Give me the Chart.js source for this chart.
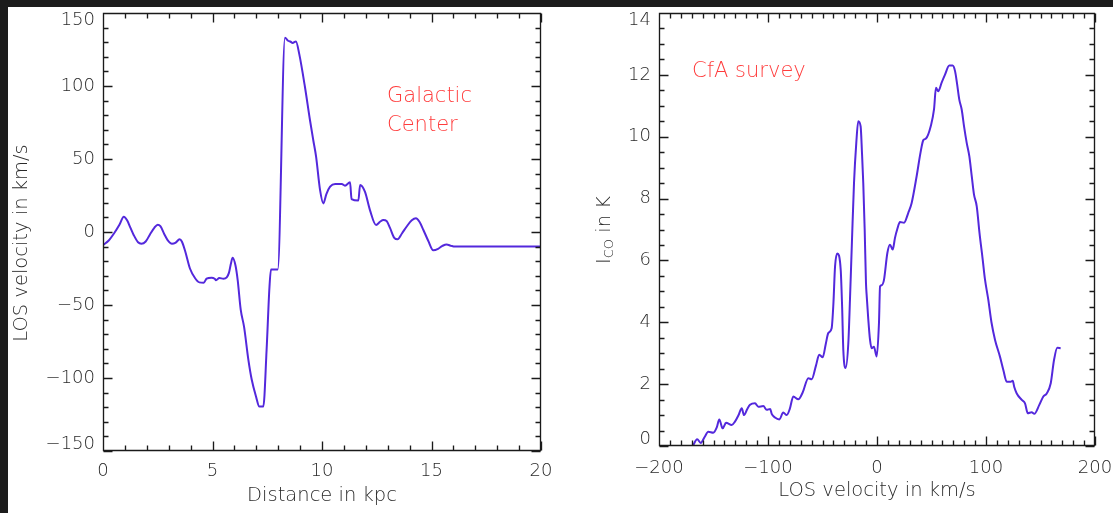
<!DOCTYPE html>
<html><head><meta charset="utf-8">
<script src="https://cdn.jsdelivr.net/npm/chart.js@4.4.1/dist/chart.umd.min.js"></script>
<style>
html,body{margin:0;padding:0;background:#fff;width:1113px;height:513px;overflow:hidden;position:relative}
#cl{position:absolute;left:0;top:0}
#cr{position:absolute;left:556px;top:0}
.strip{position:absolute;background:#1c1c1c;z-index:5}
</style></head><body>
<canvas id="cl" width="556" height="513"></canvas>
<canvas id="cr" width="557" height="513"></canvas>
<div class="strip" style="left:0;top:0;width:1113px;height:7px"></div>
<div class="strip" style="left:0;top:0;width:8px;height:513px"></div>
<script>
// ---------- Left panel: LOS velocity vs distance (towards the Galactic Center) ----------
const distance_kpc = [0.0,0.25,0.5,0.75,0.95,1.1,1.25,1.4,1.6,1.75,1.95,2.15,2.35,2.5,2.62,2.8,2.95,3.15,3.3,3.5,3.6,3.75,3.97,4.2,4.4,4.6,4.73,4.96,5.1,5.16,5.31,5.5,5.65,5.75,5.85,5.92,6.05,6.15,6.29,6.44,6.64,6.79,6.99,7.14,7.32,7.47,7.6,7.67,7.98,8.31,8.45,8.55,8.66,8.81,8.96,9.22,9.45,9.6,9.73,9.91,10.06,10.2,10.37,10.6,10.9,11.05,11.28,11.35,11.66,11.74,11.96,12.19,12.47,12.65,12.8,12.95,13.1,13.3,13.45,13.65,13.86,14.1,14.29,14.45,14.63,14.85,15.08,15.3,15.5,15.69,15.9,16.07,20.0];
const los_velocity_kms = [-9,-6,-1,5,10.5,8,3,-2,-7,-8,-6.5,-1.5,3,5,4,-1.5,-5.5,-8,-7.5,-5,-6.5,-13,-25,-31.5,-34.5,-34.7,-32,-31.3,-32,-33,-31.5,-32,-31,-28,-21,-17.6,-23,-33,-53.4,-64.8,-87.7,-101,-112.8,-119.6,-119.6,-80.8,-38,-25.6,-25.6,133,131,130.5,129.5,130.5,122,99.5,76.7,63,51.6,28.8,19.6,26,31,32.9,32.9,31.7,34,22.5,21.5,32.2,27.6,15,4.8,7,8.2,7.5,3,-4,-5,-1,3.6,8,9.4,7,1.4,-6,-12.5,-11.5,-9.5,-8.5,-9.5,-10,-10];
const left_x_ticks = [0,5,10,15,20];
const left_y_ticks = [-150,-100,-50,0,50,100,150];

// ---------- Right panel: CfA CO spectrum ----------
const co_velocity_kms = [-169,-165,-161.7,-158,-154.8,-150.2,-147,-144.7,-141.6,-138.5,-133.3,-130.3,-127,-124.1,-122,-119,-116.5,-111.9,-108.9,-104.3,-101.2,-98,-96.6,-93.6,-89.6,-86,-82.8,-80,-76.8,-72.2,-68.2,-63,-59.9,-56,-53,-49.8,-47,-44.7,-41.6,-40,-38.5,-36.4,-33.3,-32,-30.9,-28.8,-26.3,-24.8,-23,-21.1,-19,-17.2,-15,-13.8,-12.6,-11.3,-10.1,-9.4,-8,-6.4,-4.9,-2.8,-0.3,1.8,2.8,4.3,6.4,9.5,11.9,14.4,16.5,18.5,21.1,24.8,28.7,31.8,36.4,40,42.5,44.9,49.3,52.3,54.1,56.2,59.3,62.4,66.3,69.4,71.6,73.5,75.5,77.7,80,82.3,84.7,87,89,91.5,94,97,99,102.1,105,108.3,112.8,115.9,119,122.7,124.5,126,128.2,132.8,135.8,138.3,141.9,144.3,148.9,152.6,155.7,159.4,162.4,165.4,168.5];
const co_intensity_K = [0.0,0.22,0.1,0.3,0.46,0.43,0.6,0.86,0.57,0.75,0.68,0.79,1.0,1.22,1.0,1.2,1.33,1.38,1.27,1.29,1.17,1.2,1.04,0.92,0.86,1.08,1.0,1.2,1.6,1.51,1.73,2.19,2.16,2.6,2.95,2.87,3.3,3.65,3.81,4.6,5.8,6.22,5.7,4.5,3.1,2.52,3.33,4.73,6.6,8.5,9.8,10.5,10.33,9.5,8.5,7,5.26,4.83,4.1,3.43,3.16,3.21,2.89,3.97,5.16,5.2,5.37,6.24,6.51,6.35,6.73,7.0,7.24,7.22,7.54,7.86,8.73,9.5,9.89,9.94,10.34,10.88,11.58,11.47,11.75,12.01,12.3,12.3,12.12,11.7,11.2,10.88,10.3,9.8,9.37,8.7,8.13,7.75,6.9,6.02,5.4,4.73,4.0,3.43,2.89,2.46,2.08,2.08,2.11,1.9,1.7,1.49,1.38,1.06,1.09,1.04,1.33,1.6,1.7,2.03,2.78,3.18,3.16];
const right_x_ticks = [-200,-100,0,100,200];
const right_y_ticks = [0,2,4,6,8,10,12,14];

// ---------- styles ----------
const FAM = '"DejaVu Sans", "Liberation Sans", sans-serif';
const LINE = '#5328dc';
const TXT = '#2a2a2a';
const RED = '#ff3c3c';
const fmt = v => v < 0 ? '\u2212' + Math.abs(v) : String(v);

// frame with inward major/minor ticks on all four sides, placed through the chart's own scales
function makeFramePlugin(cfg) {
  return {
    id: 'frame',
    afterDraw(chart) {
      const ctx = chart.ctx, a = chart.chartArea;
      const xs = chart.scales.x, ys = chart.scales.y;
      ctx.save();
      ctx.strokeStyle = '#1a1a1a';
      ctx.lineWidth = 1.35;
      const L = Math.round(a.left) + 0.5, R = Math.round(a.right) - 0.5;
      const T = Math.round(a.top) + 0.5, B = Math.round(a.bottom) - 0.5;
      ctx.beginPath();
      ctx.rect(L, T, R - L, B - T);
      const tickX = (v, len) => {
        const p = Math.round(xs.getPixelForValue(v)) + 0.5;
        ctx.moveTo(p, B); ctx.lineTo(p, B - len);
        ctx.moveTo(p, T); ctx.lineTo(p, T + len);
      };
      const tickY = (v, len) => {
        const p = Math.round(ys.getPixelForValue(v)) + 0.5;
        ctx.moveTo(L, p); ctx.lineTo(L + len, p);
        ctx.moveTo(R, p); ctx.lineTo(R - len, p);
      };
      const nx = Math.round((cfg.xMax - cfg.xMin) / cfg.xMinor);
      for (let i = 0; i <= nx; i++) tickX(cfg.xMin + i * cfg.xMinor, cfg.minorLen);
      const ny = Math.round((cfg.yMax - cfg.yMin) / cfg.yMinor);
      for (let i = 0; i <= ny; i++) tickY(cfg.yMin + i * cfg.yMinor, cfg.minorLen);
      cfg.xTicks.forEach(v => tickX(v, cfg.majorLen));
      cfg.yTicks.forEach(v => tickY(v, cfg.majorLen));
      ctx.stroke();
      ctx.restore();
    }
  };
}

function makeTextPlugin(items) {
  return {
    id: 'texts',
    afterDraw(chart) {
      const ctx = chart.ctx;
      items.forEach(it => {
        ctx.save();
        ctx.fillStyle = it.color || TXT;
        ctx.translate(it.x, it.y);
        if (it.rot) ctx.rotate(it.rot);
        const parts = it.parts || [{t: it.text, size: it.size, dy: 0}];
        let total = 0;
        parts.forEach(p => { ctx.font = '200 ' + p.size + 'px ' + FAM; p.w = ctx.measureText(p.t).width; total += p.w; });
        let x = it.align === 'center' ? -total / 2 : 0;
        ctx.textBaseline = it.baseline || 'alphabetic';
        parts.forEach(p => { ctx.font = '200 ' + p.size + 'px ' + FAM; ctx.fillText(p.t, x, p.dy || 0); x += p.w; });
        ctx.restore();
      });
    }
  };
}

function axis(min, max, ticks, pad, fit, isX) {
  const last = ticks.length - 1;
  return {
    type: 'linear', min, max,
    afterBuildTicks: s => { s.ticks = ticks.map(v => ({value: v})); },
    grid: {display: false, drawTicks: false},
    border: {display: false},
    ticks: {
      font: c => ({family: FAM, size: 18, weight: 200, lineHeight: (!isX && (c.index === 0 || c.index === last)) ? 0.78 : 1.2}),
      color: TXT, padding: pad, maxRotation: 0, autoSkip: false,
      // keep the outermost y labels inside the frame, as in the reference
      callback: (v, i) => isX ? fmt(v) : (i === last ? ['', fmt(v)] : (i === 0 ? [fmt(v), ''] : fmt(v)))
    },
    afterFit: s => {
      if (isX) s.height = fit; else s.width = fit;
      s.paddingTop = 0; s.paddingBottom = 0; s.paddingLeft = 0; s.paddingRight = 0;
    }
  };
}

function makeChart(id, xs, ys, sc, pad, frame, texts) {
  return new Chart(document.getElementById(id), {
    type: 'line',
    data: {datasets: [{data: xs.map((x, i) => ({x, y: ys[i]})), borderColor: LINE, borderWidth: 2, pointRadius: 0, cubicInterpolationMode: 'monotone', fill: false}]},
    options: {
      responsive: false, animation: false, devicePixelRatio: 1,
      layout: {padding: pad},
      plugins: {legend: {display: false}, tooltip: {enabled: false}},
      scales: sc
    },
    plugins: [makeFramePlugin(frame), makeTextPlugin(texts)]
  });
}

makeChart('cl', distance_kpc, los_velocity_kms,
  {x: axis(0, 20, left_x_ticks, 10, 62, true), y: axis(-150, 150, left_y_ticks, 8, 103, false)},
  {top: 13, right: 15, left: 0, bottom: 0},
  {xMin: 0, xMax: 20, xMinor: 1, yMin: -150, yMax: 150, yMinor: 10, xTicks: left_x_ticks, yTicks: left_y_ticks, majorLen: 9, minorLen: 5},
  [
    {text: 'Galactic', size: 21, x: 387, y: 102, color: RED},
    {text: 'Center', size: 21, x: 387, y: 131, color: RED},
    {text: 'Distance in kpc', size: 19.5, x: 322, y: 496, align: 'center', baseline: 'middle'},
    {text: 'LOS velocity in km/s', size: 19.5, x: 22, y: 243, align: 'center', baseline: 'middle', rot: -Math.PI / 2}
  ]);

makeChart('cr', co_velocity_kms, co_intensity_K,
  {x: axis(-200, 200, right_x_ticks, 12, 67, true), y: axis(0, 14, right_y_ticks, 8, 103, false)},
  {top: 13, right: 18, left: 0, bottom: 0},
  {xMin: -200, xMax: 200, xMinor: 10, yMin: 0, yMax: 14, yMinor: 0.5, xTicks: right_x_ticks, yTicks: right_y_ticks, majorLen: 9, minorLen: 5},
  [
    {text: 'CfA survey', size: 21, x: 136, y: 77, color: RED},
    {text: 'LOS velocity in km/s', size: 19.5, x: 321, y: 491, align: 'center', baseline: 'middle'},
    {parts: [{t: 'I', size: 19.5, dy: 0}, {t: 'CO', size: 13, dy: 5}, {t: ' in K', size: 19.5, dy: 0}], x: 49, y: 230, align: 'center', baseline: 'middle', rot: -Math.PI / 2}
  ]);
</script>
</body></html>
